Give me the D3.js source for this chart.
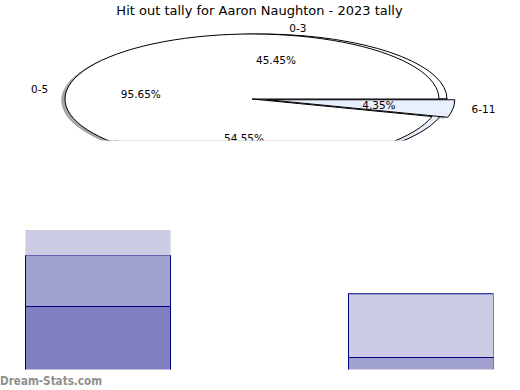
<!DOCTYPE html>
<html><head><meta charset="utf-8">
<script src="https://cdn.jsdelivr.net/npm/d3@7"></script>
<style>body{margin:0;background:#fff}svg{display:block}</style>
</head><body>
<script>
// ---- data ----
const title = "Hit out tally for Aaron Naughton - 2023 tally";
const pieALabels = ["0-3", ""];
const pieAValues = [45.45, 54.55];
const pieBLabels = ["0-5", "6-11"];
const pieBValues = [95.65, 4.35];
const pieBExplode = [0, 0.085];
const barCategories = ["A", "B"];
const barSeries1 = [6, 0];
const barSeries2 = [4, 2];
const barSeries3 = [2, 5];
const watermark = "Dream-Stats.com";

const W = 520, H = 390;
const svg = d3.select("body").append("svg").attr("width", W).attr("height", H);
const font = "DejaVu Sans, sans-serif";

svg.append("text").attr("x", 259.5).attr("y", 10).attr("text-anchor", "middle")
  .attr("dominant-baseline", "central").attr("font-family", font).attr("font-size", 13)
  .text(title);

// ---- pie area ----
const defs = svg.append("defs");
defs.append("clipPath").attr("id", "pclip").append("rect")
  .attr("x", 0).attr("y", 0).attr("width", W).attr("height", 140.5);
defs.append("clipPath").attr("id", "bclip").append("rect")
  .attr("x", 0).attr("y", 150).attr("width", 493.5).attr("height", 219.5);

const pg = svg.append("g").attr("clip-path", "url(#pclip)");
const rx = 187, ry = 65;
const pieGen = d3.pie().sort(null).startAngle(Math.PI / 2).endAngle(Math.PI / 2 - 2 * Math.PI);
const arc = d3.arc().innerRadius(0).outerRadius(rx);
const colors = ["#ffffff", "#e9effc"];

const pies = [
  {cx: 260, cy: 99, vals: pieAValues, labels: pieALabels, explode: [0, 0]},
  {cx: 252, cy: 99, vals: pieBValues, labels: pieBLabels, explode: pieBExplode}
].map(p => {
  const arcs = pieGen(p.vals).map((a, i) => {
    const mid = (a.startAngle + a.endAngle) / 2;
    const e = p.explode[i];
    return Object.assign(a, {
      i, mid,
      ox: p.cx + Math.sin(mid) * e * rx,
      oy: p.cy - Math.cos(mid) * e * ry
    });
  });
  return Object.assign(p, {arcs});
});

const shadowLayer = pg.append("g");
const wedgeLayer = pg.append("g");
const textLayer = pg.append("g");

pies.forEach(p => {
  p.arcs.forEach(a => {
    shadowLayer.append("path")
      .attr("d", arc(a))
      .attr("transform", `translate(${a.ox - 0.02 * rx},${a.oy + 0.02 * ry}) scale(1,${ry / rx})`)
      .attr("fill", "#4d4d4d").attr("fill-opacity", 0.5);
  });
});
pies.forEach(p => {
  p.arcs.forEach(a => {
    wedgeLayer.append("path")
      .attr("d", arc(a))
      .attr("transform", `translate(${a.ox},${a.oy}) scale(1,${ry / rx})`)
      .attr("fill", colors[a.i]).attr("stroke", "#000").attr("stroke-width", 1)
      .attr("vector-effect", "non-scaling-stroke");
  });
});
pies.forEach(p => {
  const total = d3.sum(p.vals);
  p.arcs.forEach(a => {
    const sx = Math.sin(a.mid), sy = -Math.cos(a.mid);
    const lx = a.ox + 1.1 * rx * sx, ly = a.oy + 1.1 * ry * sy;
    if (p.labels[a.i]) {
      textLayer.append("text").attr("x", lx).attr("y", ly)
        .attr("text-anchor", sx > 0 ? "start" : "end")
        .attr("dominant-baseline", "central").attr("font-family", font).attr("font-size", 10.5)
        .text(p.labels[a.i]);
    }
    textLayer.append("text").attr("x", a.ox + 0.6 * rx * sx).attr("y", a.oy + 0.6 * ry * sy)
      .attr("text-anchor", "middle")
      .attr("dominant-baseline", "central").attr("font-family", font).attr("font-size", 10.5)
      .text(d3.format(".2f")(a.data / total * 100) + "%");
  });
});

// ---- bars ----
const bg = svg.append("g").attr("clip-path", "url(#bclip)");
const x = d3.scaleBand().domain(barCategories).range([25, 493]).paddingInner(0.551).paddingOuter(0);
const y = d3.scaleLinear().domain([0, 12]).range([382.5, 229.5]);
const barColors = ["#8080c0", "#a2a2d0", "#cccce5"];
const rows = barCategories.map((c, i) => ({cat: c, s1: barSeries1[i], s2: barSeries2[i], s3: barSeries3[i]}));
const stack = d3.stack().keys(["s1", "s2", "s3"])(rows);
stack.forEach((layer, li) => {
  layer.forEach((d, ci) => {
    if (d[1] - d[0] <= 0) return;
    const unstroked = (li === 2 && ci === 0);
    bg.append("rect")
      .attr("x", x(d.data.cat) + 0.5).attr("y", y(d[1]) + 0.5)
      .attr("width", x.bandwidth()).attr("height", y(d[0]) - y(d[1]))
      .attr("fill", barColors[li])
      .attr("stroke", unstroked ? "none" : "#000080").attr("stroke-width", 1);
  });
});

svg.append("text").attr("x", 0).attr("y", 384.5).attr("font-family", "DejaVu Sans Condensed, DejaVu Sans, sans-serif")
  .attr("font-weight", "bold").attr("font-size", 11.6).attr("fill", "#8f8f8f")
  .text(watermark);
</script>
</body></html>
